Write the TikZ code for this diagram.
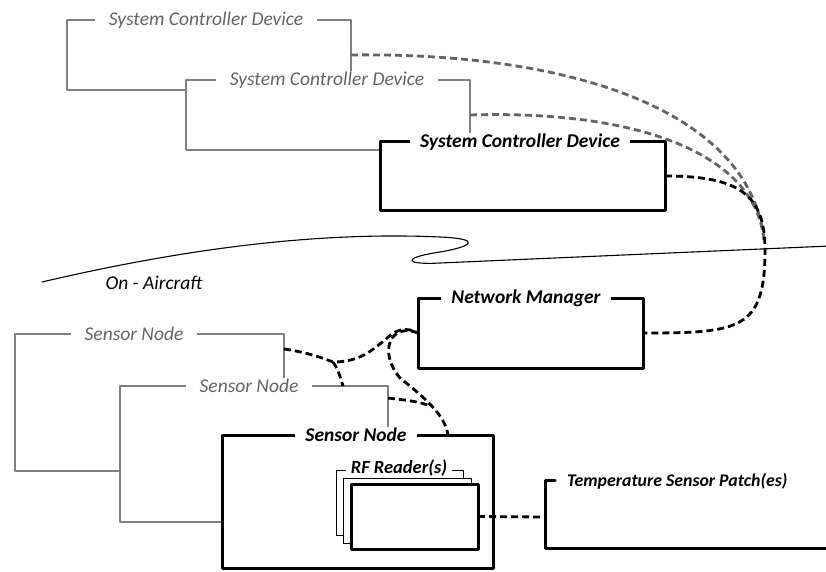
\documentclass[tikz,border=0pt]{standalone}
\usepackage{fontspec}
\setmainfont{Carlito}
\usetikzlibrary{calc}

\definecolor{framegray}{RGB}{128,128,128}
\definecolor{labelgray}{RGB}{100,100,100}
\definecolor{linkgray}{RGB}{100,100,100}

\begin{document}
\begin{tikzpicture}[line cap=round,line join=round,x=1pt,y=-1pt,
	ghostbox/.style={draw=framegray,line width=1.2pt,fill=white,inner sep=0pt,outer sep=0pt,anchor=north west},
	mainbox/.style={draw=black,line width=3pt,fill=white,inner sep=0pt,outer sep=0pt,anchor=north west},
	backbox/.style={draw=black,line width=1pt,fill=white,inner sep=0pt,outer sep=0pt,anchor=north west},
	ghostlabel/.style={fill=white,text=labelgray,inner xsep=14pt,inner ysep=1pt,font=\fontsize{19.5}{22}\selectfont\itshape},
	mainlabel/.style={fill=white,inner xsep=10pt,inner ysep=1pt,font=\fontsize{19.5}{22}\selectfont\bfseries\itshape},
	link/.style={line cap=butt,line width=2.8pt,dash pattern=on 7pt off 4pt},
	ghostlink/.style={link,draw=linkgray}]
		\useasboundingbox (0,0) rectangle (826,572);
		\clip (0,0) rectangle (826,572);
		% ground / aircraft boundary
		\draw [line width=1.1pt] (42,282) .. controls (200,245) and (330,232) .. (440,237) .. controls (485,239) and (470,247) .. (440,252) .. controls (400,258) and (405,265) .. (440,263) -- (830,246);
		\node[anchor=west,font=\fontsize{19.5}{22}\selectfont\itshape] (onac) at (102,283) {On - Aircraft};
		% system controllers
		\node[ghostbox,minimum width=284pt,minimum height=70pt] (scd1) at (67,20) {};
		\node[ghostlabel] (scd1 label) at (206,20) {System Controller Device};
		\node[ghostbox,minimum width=284pt,minimum height=70pt] (scd2) at (186,80) {};
		\node[ghostlabel] (scd2 label) at (327,80) {System Controller Device};
		\node[mainbox,minimum width=285pt,minimum height=68pt] (scd) at (380,142) {};
		\node[mainlabel] (scd label) at (520,142) {System Controller Device};
		% network manager
		\node[mainbox,minimum width=225pt,minimum height=70pt] (nm) at (418,298) {};
		\node[mainlabel] (nm label) at (526,298) {Network Manager};
		% sensor nodes
		\node[ghostbox,minimum width=269pt,minimum height=137pt] (sn1) at (15,334) {};
		\node[ghostlabel] (sn1 label) at (134,334) {Sensor Node};
		\node[ghostbox,minimum width=268pt,minimum height=136pt] (sn2) at (120,386) {};
		\node[ghostlabel] (sn2 label) at (249,386) {Sensor Node};
		\node[mainbox,minimum width=271pt,minimum height=133pt] (sn) at (222,435) {};
		\node[mainlabel] (sn label) at (356,435) {Sensor Node};
		% rf readers
		\node[backbox,minimum width=127pt,minimum height=65pt] (rf2) at (336,470) {};
		\node[mainlabel,inner xsep=5pt,font=\fontsize{18.5}{22}\selectfont\bfseries\itshape] (rf label) at (399,468) {RF Reader(s)};
		\node[backbox,minimum width=128pt,minimum height=65pt] (rf1) at (343,478) {};
		\node[mainbox,minimum width=127pt,minimum height=65pt] (rf) at (351,484) {};
		% temperature patches
		\draw [line width=3pt] (555,480) -- (545,480) -- (545,548) -- (830,548);
		\node[mainlabel,anchor=west,inner xsep=0pt,font=\fontsize{17.8}{22}\selectfont\bfseries\itshape] (tsp) at (567,481) {Temperature Sensor Patch(es)};
		\coordinate (tsp in) at (545,517);
		% links
		\draw [ghostlink] (scd1.east) .. controls (570,52) and (750,110) .. (764,240);
		\draw [ghostlink] (scd2.east) .. controls (630,110) and (755,150) .. (764,240);
		\draw [link] (scd.east) .. controls (740,176) and (765,195) .. (765,250) .. controls (765,330) and (740,333) .. (nm.east);
		\coordinate (hub) at (333,362);
		\draw [link] ([yshift=-15pt]sn1.north east) .. controls (305,352) and (320,357) .. (hub) .. controls (360,362) and (372,350) .. (385,340) .. controls (395,330) and (405,326) .. (nm.west);
		\draw [link] (hub) .. controls (338,370) .. ([xshift=89pt]sn2.north);
		\draw [link] (nm.west) .. controls (390,322) and (378,352) .. (400,378) .. controls (425,398) and (445,415) .. ([xshift=-45pt]sn.north east);
		\draw [link] ([yshift=-12pt]sn2.north east) .. controls (405,400) and (415,401) .. (428,405);
		\draw [link] (rf.east) -- (tsp in);
	\end{tikzpicture}
\end{document}
